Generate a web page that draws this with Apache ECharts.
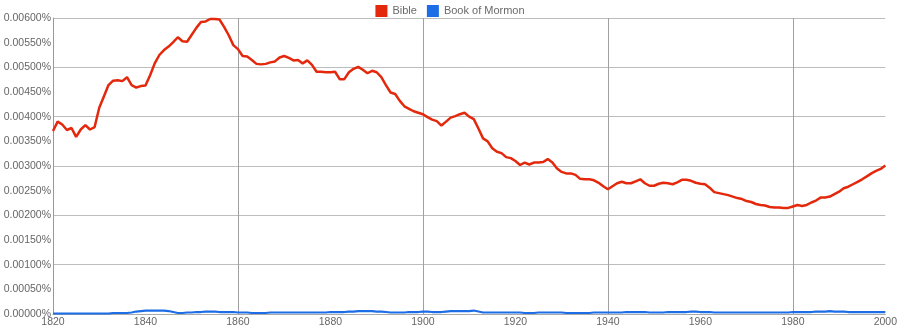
<!DOCTYPE html>
<html>
<head>
<meta charset="utf-8">
<script src="https://cdn.jsdelivr.net/npm/echarts@6/dist/echarts.min.js"></script>
<style>
html,body{margin:0;padding:0;background:#fff;}
#chart{width:900px;height:330px;}
</style>
</head>
<body>
<div id="chart"></div>
<script>
// Years (x categories)
const startYear = 1820;
const endYear = 2000;
const xTickLabels = ['1820','1840','1860','1880','1900','1920','1940','1960','1980','2000'];
const yTickLabels = ['0.00000%','0.00050%','0.00100%','0.00150%','0.00200%','0.00250%','0.00300%','0.00350%','0.00400%','0.00450%','0.00500%','0.00550%','0.00600%'];
const seriesNames = ['Bible', 'Book of Mormon'];

// Bible frequency (%) 1820..2000
const bible = [
  0.00371,0.00390,0.00384,0.00373,0.00377,0.00359,0.00374,0.00383,0.00374,0.00379,
  0.00418,0.00441,0.00464,0.00473,0.00474,0.00472,0.00480,0.00464,0.00459,0.00462,
  0.00463,0.00484,0.00508,0.00525,0.00535,0.00542,0.00551,0.00561,0.00553,0.00552,
  0.00566,0.00580,0.00592,0.00593,0.00598,0.00598,0.00597,0.00582,0.00565,0.00545,
  0.00537,0.00523,0.00522,0.00515,0.00507,0.00506,0.00507,0.00510,0.00512,0.00520,
  0.00523,0.00519,0.00514,0.00515,0.00508,0.00514,0.00505,0.00491,0.00491,0.00490,
  0.00490,0.00491,0.00476,0.00476,0.00490,0.00497,0.00501,0.00495,0.00488,0.00493,
  0.00490,0.00480,0.00464,0.00449,0.00446,0.00432,0.00421,0.00416,0.00411,0.00408,
  0.00405,0.00399,0.00394,0.00391,0.00382,0.00390,0.00398,0.00401,0.00405,0.00408,
  0.00400,0.00395,0.00376,0.00356,0.00350,0.00336,0.00329,0.00326,0.00318,0.00316,
  0.00310,0.00302,0.00307,0.00303,0.00307,0.00307,0.00308,0.00314,0.00307,0.00295,
  0.00288,0.00285,0.00285,0.00282,0.00274,0.00273,0.00273,0.00271,0.00266,0.00259,
  0.00253,0.00259,0.00265,0.00268,0.00265,0.00265,0.00269,0.00273,0.00265,0.00260,
  0.00260,0.00264,0.00266,0.00265,0.00263,0.00267,0.00272,0.00272,0.00270,0.00266,
  0.00264,0.00263,0.00256,0.00247,0.00245,0.00243,0.00241,0.00238,0.00235,0.00233,
  0.00229,0.00227,0.00223,0.00221,0.00220,0.00217,0.00216,0.00216,0.00215,0.00215,
  0.00218,0.00221,0.00219,0.00221,0.00226,0.00230,0.00236,0.00236,0.00238,0.00243,
  0.00248,0.00255,0.00258,0.00263,0.00268,0.00273,0.00279,0.00285,0.00290,0.00294,
  0.00301
];

// Book of Mormon frequency (%) 1820..2000
const bookOfMormon = [
  0.00001,0.00001,0.00001,0.00001,0.00001,0.00001,0.00001,0.00001,0.00001,0.00001,
  0.00001,0.00001,0.00001,0.00002,0.00002,0.00002,0.00002,0.00003,
  0.00005,0.00006,0.00007,0.00007,0.00007,0.00007,0.00007,0.00006,0.00004,
  0.00002,0.00002,0.00003,0.00003,0.00004,0.00004,0.00005,0.00005,0.00005,0.00004,0.00004,0.00004,0.00004,0.00003,
  0.00003,0.00003,0.00002,0.00002,0.00002,0.00002,0.00003,0.00003,0.00003,0.00003,0.00003,0.00003,0.00003,0.00003,0.00003,0.00003,0.00003,0.00003,0.00003,0.00004,0.00004,0.00004,
  0.00004,0.00005,0.00005,0.00006,0.00006,0.00006,0.00006,0.00005,0.00005,0.00004,0.00003,0.00003,0.00003,0.00003,0.00004,0.00004,0.00004,
  0.00005,0.00005,0.00004,0.00004,0.00004,0.00005,0.00006,0.00006,0.00006,0.00006,0.00006,0.00007,0.00005,0.00003,0.00003,
  0.00003,0.00003,0.00003,0.00003,0.00003,0.00003,0.00003,0.00002,0.00002,0.00002,0.00003,0.00003,0.00003,0.00003,0.00003,0.00003,0.00002,0.00002,0.00002,0.00002,0.00002,0.00002,0.00003,0.00003,0.00003,0.00003,
  0.00003,0.00003,0.00003,0.00004,0.00004,0.00004,0.00004,0.00004,0.00003,0.00003,0.00003,0.00003,0.00004,0.00004,0.00004,0.00004,0.00004,0.00005,0.00005,0.00004,
  0.00004,0.00004,0.00003,0.00003,0.00003,0.00003,0.00003,0.00003,0.00003,0.00003,0.00003,0.00003,0.00003,0.00003,0.00003,0.00003,0.00003,0.00003,0.00003,0.00004,
  0.00004,0.00004,0.00004,0.00004,0.00005,0.00005,0.00005,0.00006,0.00005,0.00005,0.00005,0.00004,0.00004,0.00004,0.00004,0.00004,0.00004,0.00004,0.00004,0.00004
];

const colors = ['#e3280c', '#1c6de6'];

const years = [];
for (let y = startYear; y <= endYear; y++) years.push(y);
const pairs = arr => years.map((y, i) => [y, arr[i]]);

const FONT = '"Liberation Sans", Arial, sans-serif';
const chart = echarts.init(document.getElementById('chart'), null, {renderer: 'canvas'});
chart.setOption({
  animation: false,
  color: colors,
  textStyle: {fontFamily: FONT},
  legend: {
    data: seriesNames,
    top: 0,
    left: 'center',
    icon: 'rect',
    itemWidth: 12,
    itemHeight: 12,
    itemGap: 10,
    itemStyle: {borderWidth: 0},
    textStyle: {color: '#6a6a6a', fontSize: 11, fontFamily: FONT}
  },
  grid: {left: 53, right: 14, top: 18, bottom: 16, containLabel: false},
  xAxis: [{
    type: 'value', min: startYear, max: endYear, interval: 20,
    axisLine: {show: true, lineStyle: {color: '#aaaaaa', width: 1}},
    axisTick: {show: false},
    splitLine: {show: false},
    axisLabel: {
      color: '#666666', fontSize: 10.5, fontFamily: FONT, margin: 3,
      formatter: v => xTickLabels[Math.round((v - startYear) / 20)] || ''
    }
  }, {
    type: 'value', min: startYear, max: endYear, interval: 40, position: 'bottom',
    axisLine: {show: false}, axisTick: {show: false}, axisLabel: {show: false},
    splitLine: {show: true, showMinLine: false, showMaxLine: false, lineStyle: {color: '#a0a0a0', width: 1}}
  }],
  yAxis: [{
    type: 'value', min: 0, max: 0.006, interval: 0.001,
    axisLine: {show: true, lineStyle: {color: '#999999', width: 1}},
    axisTick: {show: false},
    axisLabel: {show: false},
    splitLine: {show: true, lineStyle: {color: '#bdbdbd', width: 1}}
  }, {
    type: 'value', min: 0, max: 0.006, interval: 0.0005, position: 'left',
    axisLine: {show: false}, axisTick: {show: false},
    splitLine: {show: false},
    axisLabel: {
      color: '#666666', fontSize: 10.5, fontFamily: FONT, margin: 2,
      formatter: v => yTickLabels[Math.round(v / 0.0005)] || ''
    }
  }],
  series: [{
    name: seriesNames[0], type: 'line', xAxisIndex: 0, yAxisIndex: 0,
    data: pairs(bible), showSymbol: false, symbol: 'none',
    lineStyle: {width: 2.5, color: colors[0]}, z: 3
  }, {
    name: seriesNames[1], type: 'line', xAxisIndex: 0, yAxisIndex: 0,
    data: pairs(bookOfMormon), showSymbol: false, symbol: 'none',
    lineStyle: {width: 2.2, color: colors[1]}, z: 4
  }]
});
</script>
</body>
</html>
